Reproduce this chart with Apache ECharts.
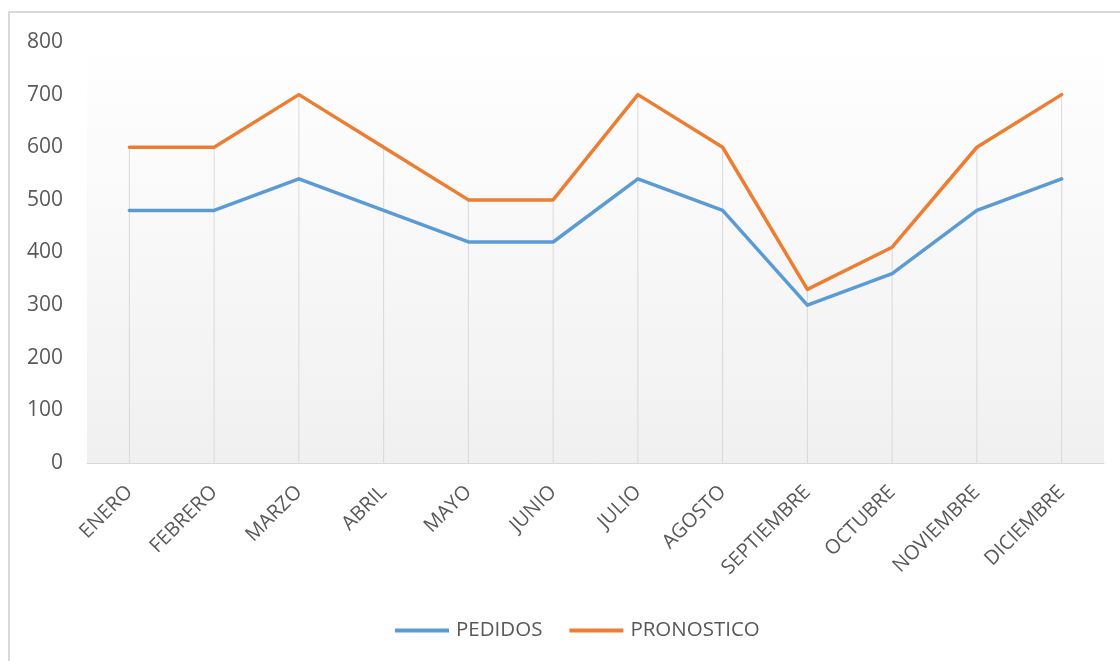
<!DOCTYPE html>
<html>
<head>
<meta charset="utf-8">
<script src="https://cdn.jsdelivr.net/npm/echarts@6/dist/echarts.min.js"></script>
<style>
    html, body {
        margin: 0;
        padding: 0;
        background: #fff;
        overflow: hidden;
    }
    .chart-frame {
        position: absolute;
        left: 8px;
        top: 11px;
        width: 1200px;
        height: 700px;
        border: 2px solid #d9d9d9;
    }
    #chart {
        position: absolute;
        left: 0;
        top: 0;
        width: 1120px;
        height: 661px;
    }
</style>
</head>
<body>
<div class="chart-frame"></div>
<div id="chart"></div>
<script>
const meses = ['ENERO', 'FEBRERO', 'MARZO', 'ABRIL', 'MAYO', 'JUNIO', 'JULIO',
    'AGOSTO', 'SEPTIEMBRE', 'OCTUBRE', 'NOVIEMBRE', 'DICIEMBRE'];
const pedidos = [480, 480, 540, 480, 420, 420, 540, 480, 300, 360, 480, 540];
const pronostico = [600, 600, 700, 600, 500, 500, 700, 600, 330, 410, 600, 700];
const yTicks = [0, 100, 200, 300, 400, 500, 600, 700, 800];

// lineas de caida: del punto mas alto hasta el eje
const caida = pedidos.map((v, i) => Math.max(v, pronostico[i]));

const fontFamily = '"Open Sans", "Noto Sans", sans-serif';
const ins = echarts.init(document.getElementById('chart'));
let option = {
    backgroundColor: 'transparent',
    animation: false,
    color: ['#5b9bd5', '#ed7d31'],
    grid: {
        left: 87,
        right: 16,
        top: 42,
        bottom: 198,
        show: true,
        borderWidth: 0,
        backgroundColor: new echarts.graphic.LinearGradient(0, 0, 0, 1, [
            { offset: 0, color: '#ffffff' },
            { offset: 1, color: '#f0f0f0' }
        ])
    },
    legend: {
        data: ['PEDIDOS', 'PRONOSTICO'],
        bottom: 15,
        left: 390,
        itemWidth: 54,
        itemHeight: 4,
        itemGap: 27,
        icon: 'rect',
        textStyle: {
            fontFamily: fontFamily,
            fontSize: 20.5,
            color: '#595959',
            padding: [0, 0, 0, 2]
        }
    },
    xAxis: {
        type: 'category',
        data: meses,
        boundaryGap: true,
        axisLine: {
            lineStyle: { color: '#d9d9d9', width: 1 }
        },
        axisTick: { show: false },
        splitLine: { show: false },
        axisLabel: {
            rotate: 45,
            margin: 26,
            interval: 0,
            fontFamily: fontFamily,
            fontSize: 20,
            color: '#595959'
        }
    },
    yAxis: {
        type: 'value',
        min: yTicks[0],
        max: yTicks[yTicks.length - 1],
        interval: 100,
        axisLine: { show: false },
        axisTick: { show: false },
        splitLine: { show: false },
        axisLabel: {
            margin: 24,
            fontFamily: fontFamily,
            fontSize: 21,
            color: '#595959'
        }
    },
    series: [
        {
            name: 'caida',
            type: 'bar',
            data: caida,
            barWidth: 1,
            silent: true,
            z: 1,
            itemStyle: { color: '#d9d9d9' }
        },
        {
            name: 'PEDIDOS',
            type: 'line',
            data: pedidos,
            symbol: 'none',
            z: 3,
            lineStyle: { width: 3.5, color: '#5b9bd5', cap: 'round', join: 'round' },
            itemStyle: { color: '#5b9bd5' }
        },
        {
            name: 'PRONOSTICO',
            type: 'line',
            data: pronostico,
            symbol: 'none',
            z: 4,
            lineStyle: { width: 3.5, color: '#ed7d31', cap: 'round', join: 'round' },
            itemStyle: { color: '#ed7d31' }
        }
    ]
};
ins.setOption(option);
</script>
</body>
</html>
